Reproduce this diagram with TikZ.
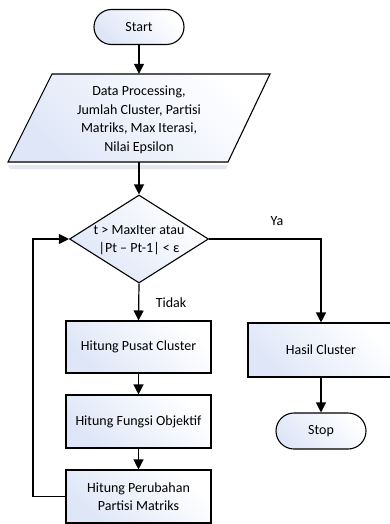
\documentclass[tikz,border=0pt]{standalone}
\usepackage{fontspec}
\setmainfont{Carlito}
\usetikzlibrary{shapes.geometric,shapes.misc,arrows.meta}
\definecolor{boxblue}{RGB}{222,230,247}
\begin{document}
\begin{tikzpicture}[x=1pt,y=-1pt,
  every node/.style={font=\fontsize{14pt}{18.5pt}\selectfont, align=center, inner sep=0pt},
  gfill/.style={top color=boxblue, bottom color=white, shading angle=135},
  procbox/.style={draw, line width=1.1pt, gfill, minimum width=145pt, minimum height=53pt},
  termbox/.style={draw, line width=1.1pt, rounded rectangle, gfill, minimum width=90pt, minimum height=35pt},
  conn/.style={line width=1.2pt, -{Triangle[length=10pt,width=10pt]}}
]
\clip (0,0) rectangle (390,524);
\fill[white] (0,0) rectangle (390,524);

% Start
\node[termbox] (start) at (139,27) {Start};

% Parallelogram input
\node[minimum width=176pt, minimum height=88pt] (para) at (139,118) {};
\fill[blue!30!gray, opacity=0.15] (8,165) -- (228,165) -- (226,169) -- (10,169) -- cycle;
\draw[line width=1.1pt, gfill] (52,74) -- (270,74) -- (228,162) -- (8,162) -- cycle;
\node (paratext) at (139,120) {Data Processing,\\Jumlah Cluster, Partisi\\Matriks, Max Iterasi,\\Nilai Epsilon};

% Decision
\node[draw, line width=1.1pt, diamond, gfill, minimum width=139pt, minimum height=88pt] (dia) at (139,239) {};
\node (diatext) at (139,240) {t > MaxIter atau\\|Pt – Pt-1| < ε};

% Process boxes
\node[procbox, minimum height=52pt] (b1) at (138.5,347) {Hitung Pusat Cluster};
\node[procbox] (b2) at (138.5,421.5) {Hitung Fungsi Objektif};
\node[procbox] (b3) at (138.5,496.5) {Hitung Perubahan\\Partisi Matriks};

% Right branch
\node[procbox, minimum width=146pt, minimum height=54pt] (hasil) at (321,350) {Hasil Cluster};
\node[termbox, minimum height=36pt] (stop) at (321,431) {Stop};

% Labels
\node (ya) at (277,221) {Ya};
\node (tidak) at (171,303) {Tidak};

% Connectors
\draw[conn] (start.south) -- (para.north);
\draw[conn] (para.south) -- (dia.north);
\draw[conn] (dia.south) -- (b1.north);
\draw[conn] (b1.south) -- (b2.north);
\draw[conn] (b2.south) -- (b3.north);
\coordinate (lp) at (33,496.5);
\draw[conn] (b3.west) -- (lp) |- (dia.west);
\draw[conn] (dia.east) -| (hasil.north);
\draw[conn] (hasil.south) -- (stop.north);
\end{tikzpicture}
\end{document}
